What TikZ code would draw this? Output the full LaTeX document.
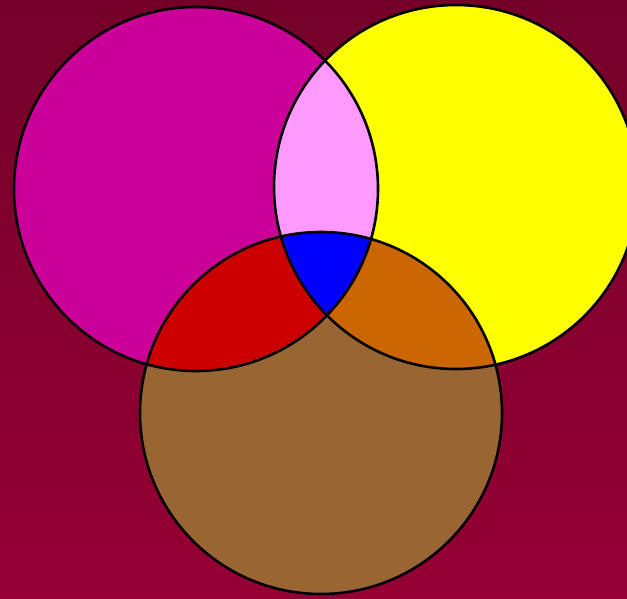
\documentclass[tikz,border=0pt]{standalone}
\begin{document}
\begin{tikzpicture}[x=1pt,y=-1pt]
\definecolor{bgtop}{RGB}{116,0,42}
\definecolor{bgbot}{RGB}{150,0,52}
\definecolor{cmag}{RGB}{204,0,153}
\definecolor{cyel}{RGB}{255,255,0}
\definecolor{cbrown}{RGB}{153,102,51}
\definecolor{cpink}{RGB}{255,153,255}
\definecolor{cblue}{RGB}{0,0,255}
\definecolor{cred}{RGB}{204,0,0}
\definecolor{corange}{RGB}{204,102,0}
\tikzset{ring/.style={draw=black,line width=2.6pt}}
\shade[top color=bgtop,bottom color=bgbot] (0pt,0pt) rectangle (627pt,-598pt);
\useasboundingbox (0,0) rectangle (627,598);
\def\CA{(196,189) circle [radius=182pt]}
\def\CB{(456,187) circle [radius=182pt]}
\def\CC{(321,413) circle [radius=181pt]}
\fill[cmag] \CA;
\fill[cyel] \CB;
\fill[cbrown] \CC;
\begin{scope}\clip \CA; \fill[cpink] \CB; \end{scope}
\begin{scope}\clip \CA; \fill[cred] \CC; \end{scope}
\begin{scope}\clip \CB; \fill[corange] \CC; \end{scope}
\begin{scope}\clip \CA; \clip \CB; \fill[cblue] \CC; \end{scope}
\draw[ring] \CA;
\draw[ring] \CB;
\draw[ring] \CC;
\end{tikzpicture}
\end{document}
